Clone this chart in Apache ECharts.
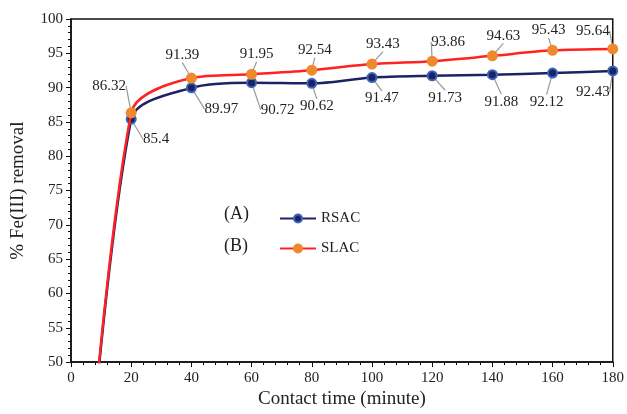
<!DOCTYPE html>
<html>
<head>
<meta charset="utf-8">
<script src="https://cdn.jsdelivr.net/npm/echarts@6/dist/echarts.min.js"></script>
<style>
  html, body { margin: 0; padding: 0; background: #fff; }
  #chart { width: 627px; height: 414px; }
</style>
</head>
<body>
<div id="chart"></div>
<script>
const times = [0, 20, 40, 60, 80, 100, 120, 140, 160, 180];
const rsac = [0, 85.4, 89.97, 90.72, 90.62, 91.47, 91.73, 91.88, 92.12, 92.43];
const slac = [0, 86.32, 91.39, 91.95, 92.54, 93.43, 93.86, 94.63, 95.43, 95.64];
const seriesNames = ['RSAC', 'SLAC'];

// label offsets (dx, dy) from the marker, per point
const slacOff = [null, [-22, -27], [-9, -23], [5, -20], [3, -20], [11, -20], [16, -19], [11, -20], [-4, -20], [-20, -18]];
const rsacOff = [null, [25, 20], [30, 21], [26, 27], [5, 23], [10, 21], [13, 22], [9, 27], [-6, 29], [-20, 21]];

const font = 'Liberation Serif';

function makeData(vals) {
  return times.map((t, i) => {
    if (i === 0) {
      return { value: [t, vals[i]], symbol: 'none', label: { show: false }, labelLine: { show: false } };
    }
    return { value: [t, vals[i]] };
  });
}

function makeSeries(name, vals, off, lineColor, markColor, borderColor) {
  return {
    name: name,
    type: 'line',
    smooth: 0.3,
    clip: true,
    data: makeData(vals),
    symbol: 'circle',
    symbolSize: 9,
    lineStyle: { color: lineColor, width: 2.5 },
    itemStyle: { color: markColor, borderColor: borderColor, borderWidth: 2 },
    label: {
      show: true,
      position: 'inside',
      fontFamily: font,
      fontSize: 15,
      color: '#222',
      formatter: (p) => p.value[1]
    },
    labelLine: { show: true, lineStyle: { color: '#999', width: 1.2 } },
    labelLayout: function (p) {
      const o = off[p.dataIndex];
      if (!o) return {};
      return { dx: o[0], dy: o[1] };
    },
    z: name === 'SLAC' ? 3 : 2
  };
}

var myChart = echarts.init(document.getElementById('chart'));
myChart.setOption({
  animation: false,
  grid: {
    left: 71, right: 10, top: 19, bottom: 42,
    show: true, borderColor: '#111', borderWidth: 1.5
  },
  legend: {
    data: seriesNames,
    orient: 'vertical',
    left: 274,
    top: 206,
    itemGap: 15,
    itemWidth: 36,
    itemHeight: 10,
    textStyle: { fontFamily: font, fontSize: 15, color: '#222' }
  },
  graphic: [
    { type: 'text', left: 224, top: 205, style: { text: '(A)', font: '18px "Liberation Serif"', fill: '#222' } },
    { type: 'text', left: 224, top: 237, style: { text: '(B)', font: '18px "Liberation Serif"', fill: '#222' } }
  ],
  xAxis: {
    type: 'value',
    min: 0, max: 180, interval: 20,
    name: 'Contact time (minute)',
    nameLocation: 'middle',
    nameGap: 22,
    nameTextStyle: { fontFamily: font, fontSize: 19, color: '#222' },
    axisLine: { lineStyle: { color: '#111', width: 1.5 } },
    axisTick: { show: true, length: 5, lineStyle: { color: '#111' } },
    minorTick: { show: true, splitNumber: 5, length: 3, lineStyle: { color: '#111' } },
    splitLine: { show: false },
    axisLabel: { fontFamily: font, fontSize: 15, color: '#222', margin: 8 }
  },
  yAxis: {
    type: 'value',
    min: 50, max: 100, interval: 5,
    name: '% Fe(III) removal',
    nameLocation: 'middle',
    nameGap: 43,
    nameTextStyle: { fontFamily: font, fontSize: 19, color: '#222' },
    axisLine: { show: true, lineStyle: { color: '#111', width: 1.5 } },
    axisTick: { show: true, length: 5, lineStyle: { color: '#111' } },
    minorTick: { show: true, splitNumber: 5, length: 3, lineStyle: { color: '#111' } },
    splitLine: { show: false },
    axisLabel: { fontFamily: font, fontSize: 15, color: '#222', margin: 8 }
  },
  series: [
    makeSeries('RSAC', rsac, rsacOff, '#1c2365', '#1c2365', '#3a64b8'),
    makeSeries('SLAC', slac, slacOff, '#ff2222', '#f0892e', '#f0892e')
  ]
});
</script>
</body>
</html>
